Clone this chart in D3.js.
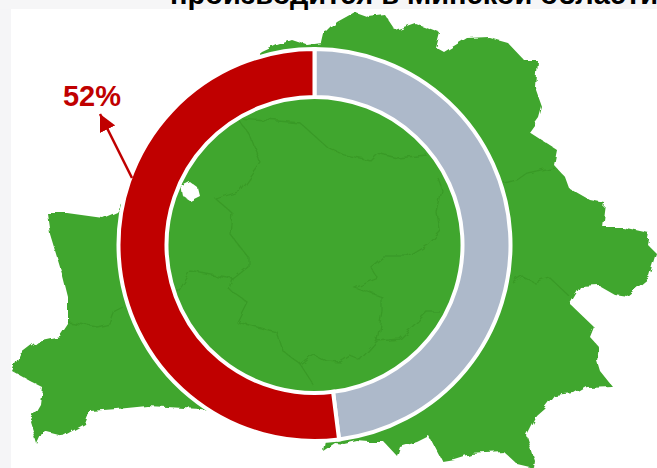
<!DOCTYPE html>
<meta http-equiv="Content-type" content="text/html; charset=UTF-8"/>
<style>
html, body { margin: 0; padding: 0; background: #fff; overflow: hidden }
svg { display: block }
* { font-family: 'Liberation Sans', Arial, sans-serif }
</style>
<svg width="657" height="468"></svg>
<script src="https://d3js.org/d3.v7.min.js"></script>
<script>
var categories = ["Другие области", "Минская область"];
var values = [48, 52];
var labelText = "52%";
var titleText = "производится в Минской области";

// background map
var mapOutline = [[327,32],[337,22],[355,12],[369,17],[385,15],[395,30],[415,23],[439,32],[435,47],[444,52],[467,38],[489,37],[507,42],[524,60],[537,60],[535,87],[542,107],[539,118],[529,132],[557,150],[554,165],[565,177],[569,188],[590,200],[605,203],[602,227],[622,227],[649,233],[647,244],[657,254],[650,277],[627,296],[614,294],[600,286],[580,287],[570,304],[594,327],[590,337],[599,347],[597,361],[600,371],[612,386],[587,387],[575,394],[555,396],[545,409],[537,416],[527,436],[535,461],[534,468],[517,464],[504,452],[470,454],[454,459],[442,461],[429,436],[417,442],[400,447],[397,456],[384,442],[369,442],[357,441],[344,444],[335,443],[323,451],[325,440],[300,420],[200,409],[167,407],[147,406],[117,409],[90,411],[85,424],[63,436],[43,431],[37,444],[30,421],[40,404],[42,387],[30,381],[12,371],[20,354],[37,341],[60,336],[68,324],[68,297],[63,277],[50,234],[47,213],[67,213],[103,218],[117,212],[180,120],[262,52],[277,45],[292,40],[307,45],[322,43],[325,30]];
var mapBorders = [
  [[267,120],[237,118],[250,135],[260,162],[240,190],[215,198],[232,213],[230,234],[248,257],[248,267],[233,279],[190,271],[177,291]],
  [[233,279],[230,290],[247,302],[237,322],[277,332],[283,351],[300,364],[315,387]],
  [[300,364],[313,354],[327,361],[340,362],[350,356],[360,360],[377,341],[400,339],[427,312],[440,312]],
  [[377,341],[382,311],[382,297],[354,287],[377,277],[370,266],[382,256],[407,256],[427,244],[440,230],[437,213],[442,190],[437,177]],
  [[267,120],[300,123],[327,147],[344,155],[370,160],[377,153],[397,158],[427,155]],
  [[504,183],[517,180],[527,173],[554,167]],
  [[512,282],[522,276],[534,282],[549,277],[569,296]],
  [[68,322],[97,327],[110,324],[115,311],[123,307]]
];
var lake = [[182,186],[190,182],[198,188],[200,196],[190,201],[184,197]];

var color = d3.scaleOrdinal().domain(categories).range(["#adb9ca", "#c00000"]);

var svg = d3.select("svg");

var defs = svg.append("defs");
// rough edges on the map, the source image was a low res picture
var soft = defs.append("filter").attr("id", "soft")
    .attr("x", "-5%").attr("y", "-5%").attr("width", "110%").attr("height", "110%");
soft.append("feTurbulence")
    .attr("type", "fractalNoise").attr("baseFrequency", 0.09)
    .attr("numOctaves", 2).attr("seed", 4).attr("result", "noise");
soft.append("feDisplacementMap")
    .attr("in", "SourceGraphic").attr("in2", "noise")
    .attr("scale", 7).attr("result", "rough");
soft.append("feGaussianBlur")
    .attr("in", "rough").attr("stdDeviation", 0.6);
defs.append("marker")
    .attr("id", "head")
    .attr("viewBox", "0 0 10 10")
    .attr("refX", 10).attr("refY", 5)
    .attr("markerWidth", 17).attr("markerHeight", 17)
    .attr("markerUnits", "userSpaceOnUse")
    .attr("orient", "auto")
  .append("path")
    .attr("d", "M0,0L10,5L0,10Z")
    .attr("fill", "#c00000");

// faint strips left over from the slide behind the picture
svg.append("rect").attr("width", 657).attr("height", 9).attr("fill", "#f6f6f7");
svg.append("rect").attr("y", 9).attr("width", 11).attr("height", 459).attr("fill", "#f5f5f7");

svg.append("text")
    .attr("x", 170)
    .attr("y", 4)
    .attr("font-size", 29)
    .attr("font-weight", "bold")
    .attr("fill", "#000")
    .text(titleText);

var line = d3.line();
var map = svg.append("g").attr("filter", "url(#soft)");

map.append("path")
    .attr("d", line(mapOutline) + "Z")
    .attr("fill", "#41a62e");
map.append("path")
    .attr("d", line(lake) + "Z")
    .attr("fill", "#fff");
map.selectAll(".border")
    .data(mapBorders)
  .enter().append("path")
    .attr("class", "border")
    .attr("d", line)
    .attr("fill", "none")
    .attr("stroke", "#399a28")
    .attr("stroke-width", 1.3);

var pie = d3.pie().sort(null);
var arc = d3.arc().innerRadius(148).outerRadius(196);

svg.append("g")
    .attr("transform", "translate(314.5,245)")
  .selectAll("path")
    .data(pie(values))
  .enter().append("path")
    .attr("d", arc)
    .attr("fill", function(d, i) { return color(categories[i]); })
    .attr("stroke", "#fff")
    .attr("stroke-width", 4);

svg.append("line")
    .attr("x1", 132).attr("y1", 178)
    .attr("x2", 100).attr("y2", 114)
    .attr("stroke", "#c00000")
    .attr("stroke-width", 2.5)
    .attr("marker-end", "url(#head)");

svg.append("text")
    .attr("x", 92)
    .attr("y", 106)
    .attr("text-anchor", "middle")
    .attr("font-size", 29)
    .attr("font-weight", "bold")
    .attr("fill", "#c00000")
    .text(labelText);
</script>
